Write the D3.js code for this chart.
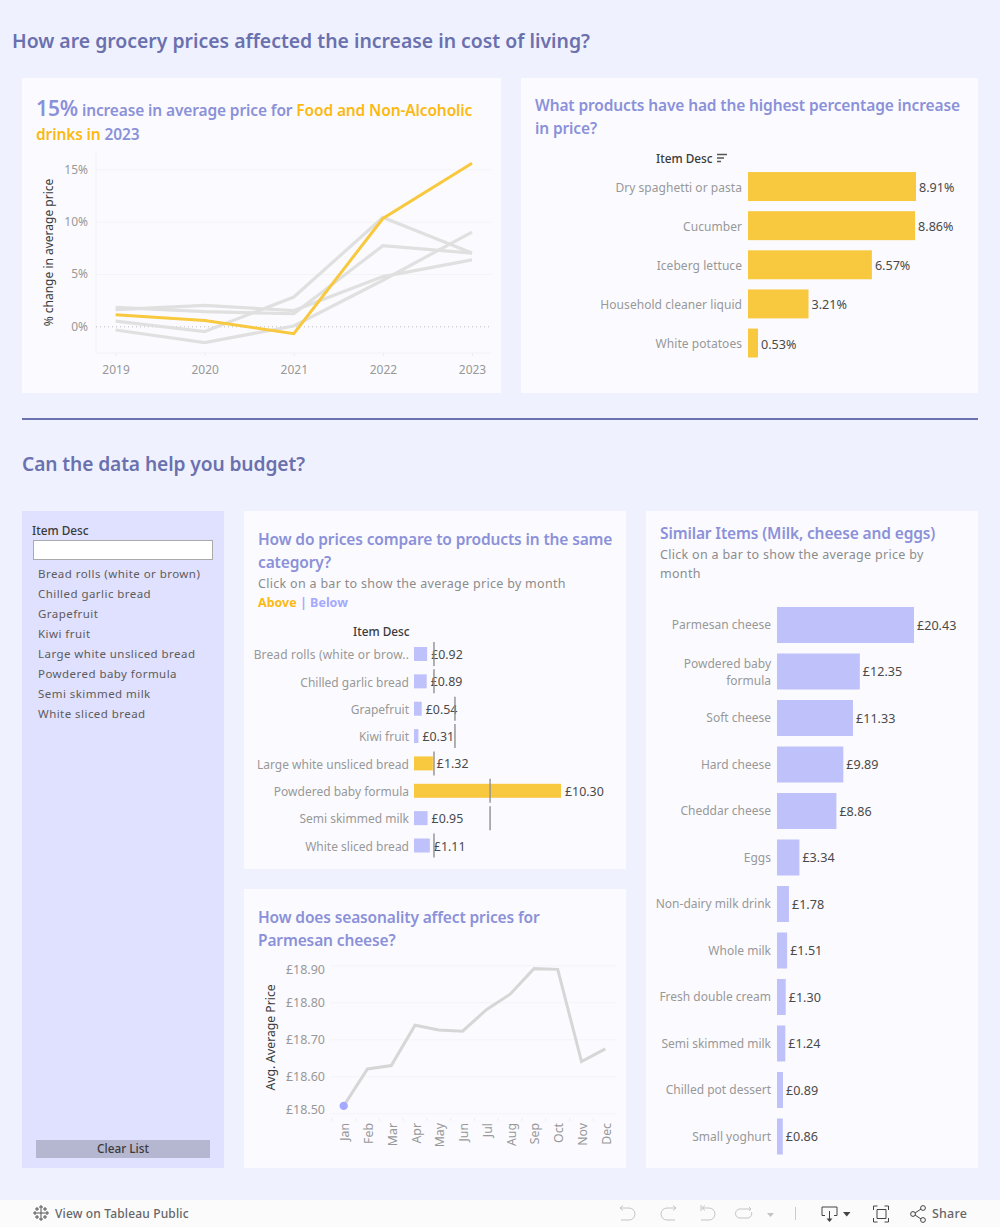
<!DOCTYPE html>
<html><head><meta charset="utf-8">
<script src="https://cdn.jsdelivr.net/npm/d3@7"></script>
<style>
html,body{margin:0;padding:0;background:#eff2fe;overflow:hidden}
svg{display:block}
text{font-family:"Noto Sans",sans-serif}
.domain{display:none}
</style></head><body>
<svg id="c" width="1000" height="1227"></svg>
<script>
// ---- data ----
const years = [2019,2020,2021,2022,2023];
const foodDrinks = [1.1,0.55,-0.7,10.3,15.57];
const greyA = [1.8,1.4,1.2,7.7,7.0];
const greyB = [1.6,2.0,1.5,4.75,6.35];
const greyC = [0.5,-0.5,2.8,10.4,7.0];
const greyD = [-0.35,-1.55,0.03,4.4,9.0];
const pctTicks = [0,5,10,15];

const topItems = ["Dry spaghetti or pasta","Cucumber","Iceberg lettuce","Household cleaner liquid","White potatoes"];
const topValues = [8.91,8.86,6.57,3.21,0.53];

const listItems = ["Bread rolls (white or brown)","Chilled garlic bread","Grapefruit","Kiwi fruit","Large white unsliced bread","Powdered baby formula","Semi skimmed milk","White sliced bread"];

const compareItems = ["Bread rolls (white or brow..","Chilled garlic bread","Grapefruit","Kiwi fruit","Large white unsliced bread","Powdered baby formula","Semi skimmed milk","White sliced bread"];
const compareValues = [0.92,0.89,0.54,0.31,1.32,10.30,0.95,1.11];
const compareRefs = [1.4,1.4,2.87,2.87,1.4,5.33,5.33,1.4];

const months = ["Jan","Feb","Mar","Apr","May","Jun","Jul","Aug","Sep","Oct","Nov","Dec"];
const monthPrices = [18.52,18.62,18.629,18.738,18.725,18.722,18.78,18.822,18.891,18.889,18.64,18.674];
const priceTicks = [18.5,18.6,18.7,18.8,18.9];

const similarItems = ["Parmesan cheese","Powdered baby formula","Soft cheese","Hard cheese","Cheddar cheese","Eggs","Non-dairy milk drink","Whole milk","Fresh double cream","Semi skimmed milk","Chilled pot dessert","Small yoghurt"];
const similarValues = [20.43,12.35,11.33,9.89,8.86,3.34,1.78,1.51,1.30,1.24,0.89,0.86];

// ---- palette ----
const C = {bg:"#eff2fe",panel:"#fbfbff",side:"#e0e1fe",head:"#6b70ae",title:"#8b91d9",gold:"#fcb913",bar:"#f8c83f",
  lav:"#bfc1fb",dot:"#a5a9fd",grey:"#e0e0e0",tick:"#989898",sub:"#8c8c8c",val:"#4a4a4a",dark:"#3a3a3a",grid:"#f3f3f8",ref:"#8f8f8f"};
const svg = d3.select("#c");
const rect=(x,y,w,h,f)=>svg.append("rect").attr("x",x).attr("y",y).attr("width",w).attr("height",h).attr("fill",f);
function txt(x,y,parts,size,weight,anchor,ls){
  const t=svg.append("text").attr("x",x).attr("y",y).attr("font-size",size).attr("font-weight",weight||400).attr("text-anchor",anchor||"start").attr("letter-spacing",ls||0);
  parts.forEach(p=>t.append("tspan").attr("fill",p[1]).attr("font-size",p[2]||null).text(p[0]));
  return t;
}
const T=15.5, TL=-0.13;
rect(0,0,1000,1227,C.bg);
rect(22,78,479,315,C.panel); rect(521,78,457,315,C.panel);
rect(22,511,202,657,C.side); rect(244,511,382,358,C.panel); rect(244,889,382,279,C.panel); rect(646,511,332,657,C.panel);
rect(22,418,956,2,C.head);
rect(0,1200,1000,27,"#fbfbfb");

txt(12,48,[["How are grocery prices affected the increase in cost of living?",C.head]],19.4,600);
txt(22,471,[["Can the data help you budget?",C.head]],19.2,600,"start",-0.1);

txt(36,116,[["15%",C.title,21],[" increase in average price for ",C.title],["Food and Non-Alcoholic",C.gold]],T,600,"start",TL);
txt(36,140,[["drinks in ",C.gold],["2023",C.title]],T,600,"start",TL);
txt(535,111,[["What products have had the highest percentage increase",C.title]],T,600,"start",TL);
txt(535,134,[["in price?",C.title]],T,600,"start",TL);
txt(258,545,[["How do prices compare to products in the same",C.title]],T,600,"start",TL);
txt(258,568,[["category?",C.title]],T,600,"start",TL);
txt(258,588,[["Click on a bar to show the average price by month",C.sub]],12.5,400,"start",0.3);
txt(258,607,[["Above",C.gold],[" | ",C.dot],["Below",C.dot]],12.5,700);
txt(258,923,[["How does seasonality affect prices for",C.title]],T,600,"start",TL);
txt(258,946,[["Parmesan cheese?",C.title]],T,600,"start",TL);
txt(660,539,[["Similar Items (Milk, cheese and eggs)",C.title]],T,600,"start",TL);
txt(660,559,[["Click on a bar to show the average price by",C.sub]],12.5,400,"start",0.3);
txt(660,578,[["month",C.sub]],12.5,400,"start",0.3);

function styleAxis(g,size){
  g.selectAll("text").attr("fill",C.tick).attr("font-size",size||12).style("font-family",'"Noto Sans",sans-serif');
  g.select(".domain").remove();
}

// ---- line chart 1 ----
const x1=d3.scalePoint().domain(years).range([115.6,472]);
const y1=d3.scaleLinear().domain([0,15]).range([326.3,169.3]);
svg.append("line").attr("x1",96).attr("x2",96).attr("y1",153).attr("y2",353).attr("stroke","#f1f1f6");
svg.append("line").attr("x1",96).attr("x2",491).attr("y1",353).attr("y2",353).attr("stroke","#f1f1f6");
const gy1=svg.append("g").attr("transform","translate(96,0)").call(d3.axisLeft(y1).tickValues(pctTicks).tickFormat(d=>d+"%").tickSize(-395).tickPadding(8));
styleAxis(gy1);
gy1.selectAll("line").attr("stroke",d=>d===0?"#bbb":C.grid).attr("stroke-dasharray",d=>d===0?"1,3":null);
const gx1=svg.append("g").attr("transform","translate(0,353)").call(d3.axisBottom(x1).tickSize(3).tickPadding(9));
styleAxis(gx1); gx1.selectAll("line").attr("stroke","#eee");
const l1=d3.line().x((d,i)=>x1(years[i])).y(d=>y1(d));
[greyA,greyB,greyC,greyD].forEach(s=>svg.append("path").attr("d",l1(s)).attr("fill","none").attr("stroke",C.grey).attr("stroke-width",3.2));
svg.append("path").attr("d",l1(foodDrinks)).attr("fill","none").attr("stroke",C.bar).attr("stroke-width",3);
txt(0,0,[["% change in average price",C.dark]],12,400,"middle").attr("transform","translate(53,252.500) rotate(-90)");

// ---- top bars ----
const x2=d3.scaleLinear().domain([0,8.91]).range([748,916]);
const y2=d3.scaleBand().domain(topItems).range([167,362.6]).paddingInner(0.26).paddingOuter(0.13);
const gy2=svg.append("g").attr("transform","translate(748,1.500)").call(d3.axisLeft(y2).tickSize(0).tickPadding(6));
styleAxis(gy2);
gy2.selectAll("text").attr("letter-spacing",0.05);
svg.selectAll(".b2").data(topItems).enter().append("rect").attr("x",x2(0)).attr("y",d=>y2(d)).attr("height",y2.bandwidth())
  .attr("width",(d,i)=>x2(topValues[i])-x2(0)).attr("fill",C.bar);
svg.selectAll(".l2").data(topItems).enter().append("text").attr("x",(d,i)=>x2(topValues[i])+3).attr("y",d=>y2(d)+y2.bandwidth()/2+5.500)
  .attr("font-size",12.6).attr("fill",C.val).text((d,i)=>topValues[i].toFixed(2)+"%");
txt(656,163,[["Item Desc",C.dark]],11.8,500);
svg.append("path").attr("d","M717 154.500h10M717 158h7M717 161.500h4").attr("stroke","#555").attr("stroke-width",1.4).attr("fill","none");

// ---- slicer list ----
txt(32,535,[["Item Desc",C.dark]],11.8,500);
rect(33.5,540.5,179,19,"#fff").attr("stroke","#aaa");
const yl=d3.scalePoint().domain(listItems).range([574,714]);
svg.selectAll(".li").data(listItems).enter().append("text").attr("x",38).attr("y",d=>yl(d)+4).attr("font-size",11.5).attr("fill","#5c5c5c").attr("letter-spacing",0.45).text(d=>d);
rect(36,1140,174,18,"#b5b6d0");
txt(123,1153,[["Clear List",C.dark]],11.8,500,"middle");

// ---- compare bars ----
const x3=d3.scaleLinear().domain([0,10.3]).range([414,561]);
const y3=d3.scalePoint().domain(compareItems).range([654,845.5]);
const gy3=svg.append("g").attr("transform","translate(414,1)").call(d3.axisLeft(y3).tickSize(0).tickPadding(5));
styleAxis(gy3);
gy3.selectAll("text").filter((d,i)=>i===0).attr("letter-spacing",0.15);
svg.selectAll(".b3").data(compareItems).enter().append("rect").attr("x",x3(0)).attr("y",d=>y3(d)-7).attr("height",14)
  .attr("width",(d,i)=>x3(compareValues[i])-x3(0)).attr("fill",(d,i)=>compareValues[i]>compareRefs[i]*0.9&&compareValues[i]>1.2?C.bar:C.lav);
svg.selectAll(".l3").data(compareItems).enter().append("text").attr("x",(d,i)=>x3(compareValues[i])+4).attr("y",d=>y3(d)+5)
  .attr("font-size",12.4).attr("fill",C.val).text((d,i)=>"£"+compareValues[i].toFixed(2));
svg.selectAll(".r3").data(compareItems).enter().append("line").attr("x1",(d,i)=>x3(compareRefs[i])).attr("x2",(d,i)=>x3(compareRefs[i]))
  .attr("y1",d=>y3(d)-12).attr("y2",d=>y3(d)+12).attr("stroke",C.ref).attr("stroke-width",1.4);
txt(353,636,[["Item Desc",C.dark]],11.8,500);

// ---- seasonality ----
const x4=d3.scalePoint().domain(months).range([343.7,605.3]);
const y4=d3.scaleLinear().domain([18.5,18.9]).range([1113.3,965.3]);
const gy4=svg.append("g").attr("transform","translate(330,0)").call(d3.axisLeft(y4).tickValues(priceTicks).tickFormat(d=>"£"+d.toFixed(2)).tickSize(-286).tickPadding(5));
styleAxis(gy4,12.5); gy4.selectAll("line").attr("stroke",C.grid);
gy4.selectAll("text").attr("dy",d=>d===18.9?"0.67em":d===18.5?"0.02em":"0.35em");
const gx4=svg.append("g").attr("transform","translate(0,1119)").call(d3.axisBottom(x4).tickSize(0).tickPadding(0));
styleAxis(gx4);
gx4.selectAll("text").attr("transform","rotate(-90)").attr("text-anchor","end").attr("dx","-4").attr("dy","5").attr("x",0).attr("y",0).attr("font-size",12.3);
svg.selectAll(".m4").data(months).enter().append("line").attr("x1",d=>x4(d)-11.9).attr("x2",d=>x4(d)-11.9).attr("y1",1118).attr("y2",1121).attr("stroke","#eee");
const l4=d3.line().x((d,i)=>x4(months[i])).y(d=>y4(d));
svg.append("path").attr("d",l4(monthPrices)).attr("fill","none").attr("stroke","#d6d6d6").attr("stroke-width",3);
svg.append("circle").attr("cx",x4(months[0])).attr("cy",y4(monthPrices[0])).attr("r",4.2).attr("fill",C.dot);
txt(0,0,[["Avg. Average Price",C.dark]],12.2,400,"middle").attr("transform","translate(275,1037.500) rotate(-90)");

// ---- similar items ----
const x5=d3.scaleLinear().domain([0,20.43]).range([777,914]);
const y5=d3.scalePoint().domain(similarItems).range([624.5,1136]);
const gy5=svg.append("g").attr("transform","translate(777,0.500)").call(d3.axisLeft(y5).tickSize(0).tickPadding(6));
styleAxis(gy5);
gy5.selectAll("text").filter(d=>d==="Powdered baby formula").each(function(){
  const t=d3.select(this); t.text(null);
  t.append("tspan").attr("x",-6).attr("dy","-0.35em").text("Powdered baby");
  t.append("tspan").attr("x",-6).attr("dy","1.42em").text("formula");
});
svg.selectAll(".b5").data(similarItems).enter().append("rect").attr("x",x5(0)).attr("y",d=>y5(d)-17.5).attr("height",36)
  .attr("width",(d,i)=>x5(similarValues[i])-x5(0)).attr("fill",C.lav);
svg.selectAll(".l5").data(similarItems).enter().append("text").attr("x",(d,i)=>x5(similarValues[i])+3).attr("y",d=>y5(d)+5)
  .attr("font-size",12.6).attr("fill",C.val).text((d,i)=>"£"+similarValues[i].toFixed(2));

// ---- footer ----
txt(55,1218,[["View on Tableau Public","#666"]],12,500,"start",0.15);
txt(932,1218,[["Share","#666"]],12.5,500,"start",0.2);
const ic=svg.append("g").attr("fill","none").attr("stroke-width",1);
const plus=(x,y,s)=>`M${x-s} ${y}h${2*s}M${x} ${y-s}v${2*s}`;
ic.append("path").attr("stroke","#555").attr("d",plus(41,1213,4)+plus(41,1207,2)+plus(41,1219,2)+plus(35,1213,2)+plus(47,1213,2)+plus(37,1209,2)+plus(45,1209,2)+plus(37,1217,2)+plus(45,1217,2));
ic.append("path").attr("stroke","#c4c4c4").attr("d","M623 1205.500l-3 2.500 3 2.500M620 1208h9a6 6 0 0 1 0 12h-8M673 1205.500l3 2.500-3 2.500M676 1208h-9a6 6 0 0 0 0 12h8M701 1205v6M705 1205.500l-3 2.500 3 2.500M702 1208h7a6 6 0 0 1 0 12h-8M749 1207l2 2-2 2M751 1209h-11a4.500 4.500 0 0 0 0 9h8a4.500 4.500 0 0 0 3.500-6");
svg.append("path").attr("d","M767 1213h7l-3.500 4z").attr("fill","#c4c4c4");
svg.append("line").attr("x1",795.500).attr("x2",795.500).attr("y1",1207).attr("y2",1220).attr("stroke","#ccc");
ic.append("path").attr("stroke","#444").attr("d","M825 1215.500h-3v-8.500h15v8.500h-3M829.500 1211v10");
svg.append("path").attr("d","M826.500 1218.500h6l-3 3.500z").attr("fill","#444");
svg.append("path").attr("d","M843 1212h7.500l-3.750 4.500z").attr("fill","#444");
ic.append("path").attr("stroke","#444").attr("d","M873.500 1210v-4h4M884.500 1206h4v4M873.500 1218v4h4M884.500 1222h4v-4M877 1209.500h9v9h-9z");
ic.append("path").attr("stroke","#444").attr("d","M915 1213l6-4M915 1215l6 4");
[[913,1214],[923,1208],[923,1220]].forEach(p=>ic.append("circle").attr("cx",p[0]).attr("cy",p[1]).attr("r",2.4).attr("stroke","#444"));
</script>
</body></html>
